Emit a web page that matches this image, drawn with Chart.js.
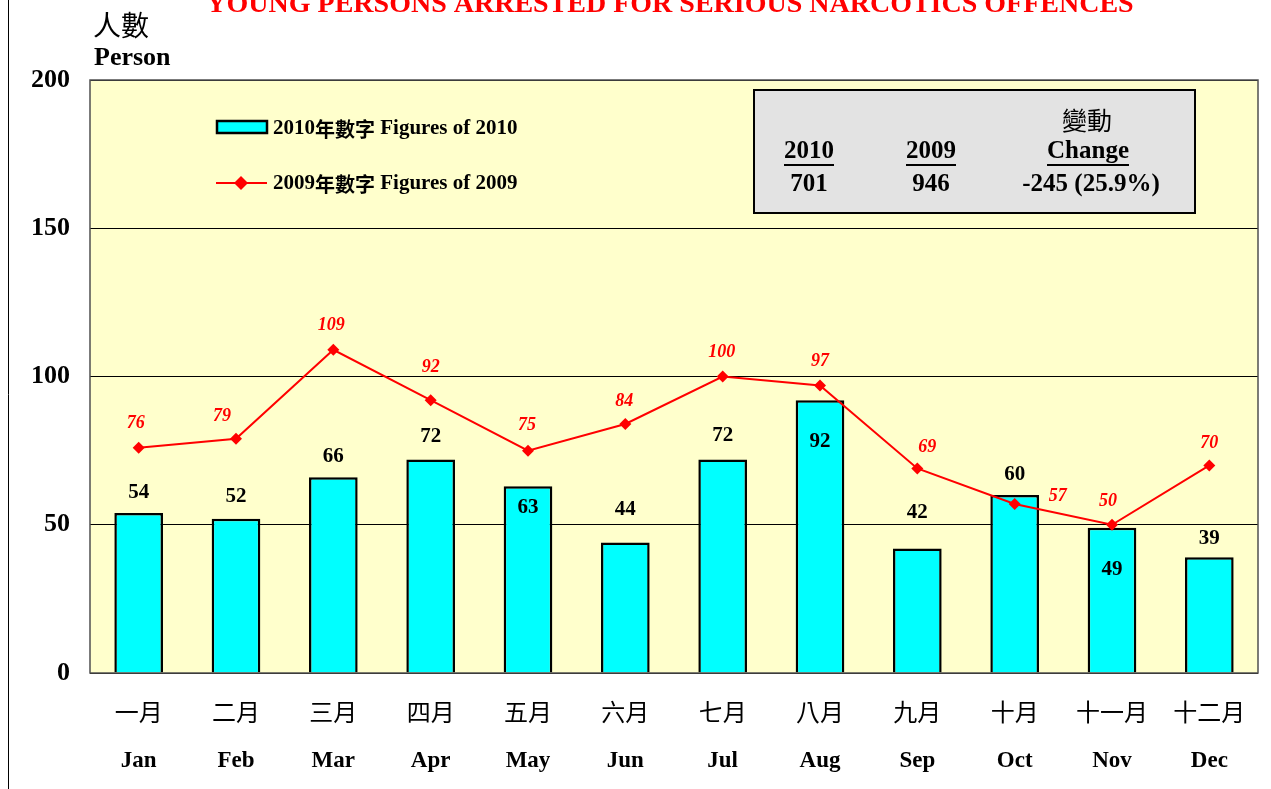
<!DOCTYPE html>
<html>
<head>
    <title>Young Persons Arrested for Serious Narcotics Offences</title>
    <script src="https://cdn.jsdelivr.net/npm/chart.js"></script>
    <style>
        body { margin: 0; background: #ffffff; }
        #wrap { width: 1271px; height: 789px; }
    </style>
</head>
<body>
<div id="wrap"><canvas id="grafik" width="1271" height="789"></canvas></div>
<script>
    // data
    const bulanZh = ['一月', '二月', '三月', '四月', '五月', '六月', '七月', '八月', '九月', '十月', '十一月', '十二月'];
    const bulanEn = ['Jan', 'Feb', 'Mar', 'Apr', 'May', 'Jun', 'Jul', 'Aug', 'Sep', 'Oct', 'Nov', 'Dec'];
    const data2010 = [54, 52, 66, 72, 63, 44, 72, 92, 42, 60, 49, 39];
    const data2009 = [76, 79, 109, 92, 75, 84, 100, 97, 69, 57, 50, 70];
    const yTicks = [0, 50, 100, 150, 200];
    const ringkasan = { y2010: '701', y2009: '946', change: '-245 (25.9%)' };

    // label offsets (px, relative to the mark)
    const barLabelDy = [-20, -22, -21, -23, 21, -33, -24, 41, -36, -21, 42, -19];
    const lineLabelDx = [-3, -14, -2, 0, -1, -1, -1, 0, 10, 43, -4, 0];
    const lineLabelDy = [-24, -22, -24, -33, -25, -23, -24, -24, -21, -8, -23, -22];

    const serif = '"Liberation Serif", "Times New Roman", serif';
    const cjk = '"Noto Sans CJK TC", "Noto Sans CJK SC", sans-serif';

    const hiasan = {
        id: 'hiasan',
        beforeDraw(chart) {
            const c = chart.ctx, a = chart.chartArea;
            c.save();
            c.fillStyle = '#FFFFCC';
            c.fillRect(a.left, a.top, a.right - a.left, a.bottom - a.top);
            c.restore();
        },
        afterDatasetsDraw(chart) {
            const c = chart.ctx, a = chart.chartArea;
            const xs = chart.scales.x;
            c.save();
            // plot frame
            c.strokeStyle = '#505050';
            c.lineWidth = 1.5;
            c.strokeRect(a.left, a.top, a.right - a.left, a.bottom - a.top);
            // page line at left
            c.strokeStyle = '#000';
            c.lineWidth = 1;
            c.beginPath(); c.moveTo(8.5, 0); c.lineTo(8.5, 789); c.stroke();

            // title
            c.fillStyle = '#FF0000';
            c.font = 'bold 28px ' + serif;
            c.textAlign = 'center';
            c.textBaseline = 'alphabetic';
            c.fillText('YOUNG PERSONS ARRESTED FOR SERIOUS NARCOTICS OFFENCES', 670, 12);

            // y axis title
            c.fillStyle = '#000';
            c.textAlign = 'left';
            c.textBaseline = 'middle';
            c.font = '28px ' + cjk;
            c.fillText('人數', 93, 25);
            c.font = 'bold 26px ' + serif;
            c.fillText('Person', 94, 58);

            // x labels
            c.textAlign = 'center';
            for (let i = 0; i < bulanZh.length; i++) {
                const x = xs.getPixelForValue(i);
                c.font = '24px ' + cjk;
                c.fillText(bulanZh[i], x, 712);
                c.font = 'bold 23px ' + serif;
                c.fillText(bulanEn[i], x, 761);
            }

            // bar labels
            const barMeta = chart.getDatasetMeta(0);
            c.font = 'bold 21px ' + serif;
            c.fillStyle = '#000';
            barMeta.data.forEach((el, i) => {
                c.fillText(String(data2010[i]), el.x, el.y + barLabelDy[i]);
            });
            // line labels
            const lineMeta = chart.getDatasetMeta(1);
            c.font = 'italic bold 18px ' + serif;
            c.fillStyle = '#FF0000';
            lineMeta.data.forEach((el, i) => {
                c.fillText(String(data2009[i]), el.x + lineLabelDx[i], el.y + lineLabelDy[i]);
            });

            // legend
            c.fillStyle = '#00FFFF';
            c.strokeStyle = '#000';
            c.lineWidth = 2.5;
            c.fillRect(217, 121, 50, 12);
            c.strokeRect(217, 121, 50, 12);
            c.strokeStyle = '#FF0000';
            c.lineWidth = 2;
            c.beginPath(); c.moveTo(216, 183); c.lineTo(267, 183); c.stroke();
            c.fillStyle = '#FF0000';
            c.beginPath();
            c.moveTo(241, 176); c.lineTo(248, 183); c.lineTo(241, 190); c.lineTo(234, 183);
            c.closePath(); c.fill();
            c.fillStyle = '#000';
            c.textAlign = 'left';
            drawMixed(c, ['2010', '年數字', ' Figures of 2010'], 273, 129);
            drawMixed(c, ['2009', '年數字', ' Figures of 2009'], 273, 184);

            // summary box
            c.fillStyle = '#E3E3E3';
            c.fillRect(754, 90, 441, 123);
            c.strokeStyle = '#000';
            c.lineWidth = 2;
            c.strokeRect(754, 90, 441, 123);
            c.fillStyle = '#000';
            c.textAlign = 'center';
            c.font = '25px ' + cjk;
            c.fillText('變動', 1087, 120);
            c.font = 'bold 25px ' + serif;
            const kepala = [['2010', 809], ['2009', 931], ['Change', 1088]];
            kepala.forEach(([t, x]) => {
                c.fillText(t, x, 152);
                const w = c.measureText(t).width;
                c.fillRect(x - w / 2, 164, w, 2);
            });
            c.fillText(ringkasan.y2010, 809, 185);
            c.fillText(ringkasan.y2009, 931, 185);
            c.fillText(ringkasan.change, 1091, 185);
            c.restore();
        }
    };

    function drawMixed(c, parts, x, y) {
        let cx = x;
        parts.forEach((p, i) => {
            c.font = (i === 1 ? 'bold 20px ' + cjk : 'bold 21px ' + serif);
            c.fillText(p, cx, y);
            cx += c.measureText(p).width;
        });
    }

    const ctx = document.getElementById('grafik').getContext('2d');
    var grafik = new Chart(ctx, {
        data: {
            labels: bulanEn,
            datasets: [{
                type: 'bar',
                label: '2010年數字 Figures of 2010',
                data: data2010,
                backgroundColor: '#00FFFF',
                borderColor: '#000000',
                borderWidth: 2.5,
                barPercentage: 0.5,
                categoryPercentage: 1,
                order: 2
            }, {
                type: 'line',
                label: '2009年數字 Figures of 2009',
                data: data2009,
                borderColor: '#FF0000',
                backgroundColor: '#FF0000',
                borderWidth: 2,
                pointStyle: 'rectRot',
                pointRadius: 6,
                pointBorderWidth: 0,
                tension: 0,
                order: 1
            }]
        },
        options: {
            responsive: false,
            animation: false,
            layout: { padding: { left: 8, top: 80, right: 13, bottom: 0 } },
            plugins: {
                legend: { display: false },
                tooltip: { enabled: false }
            },
            scales: {
                x: {
                    grid: { display: false, drawTicks: false },
                    border: { display: false },
                    ticks: { display: false },
                    afterFit(scale) { scale.height = 116; }
                },
                y: {
                    min: 0,
                    max: 200,
                    afterBuildTicks(scale) { scale.ticks = yTicks.map(v => ({ value: v })); },
                    grid: { color: '#000000', lineWidth: 1, drawTicks: false },
                    border: { display: false },
                    ticks: {
                        color: '#000',
                        padding: 20,
                        font: { family: serif, size: 26, weight: 'bold' }
                    },
                    afterFit(scale) { scale.width = 82; }
                }
            }
        },
        plugins: [hiasan]
    });
</script>
</body>
</html>
